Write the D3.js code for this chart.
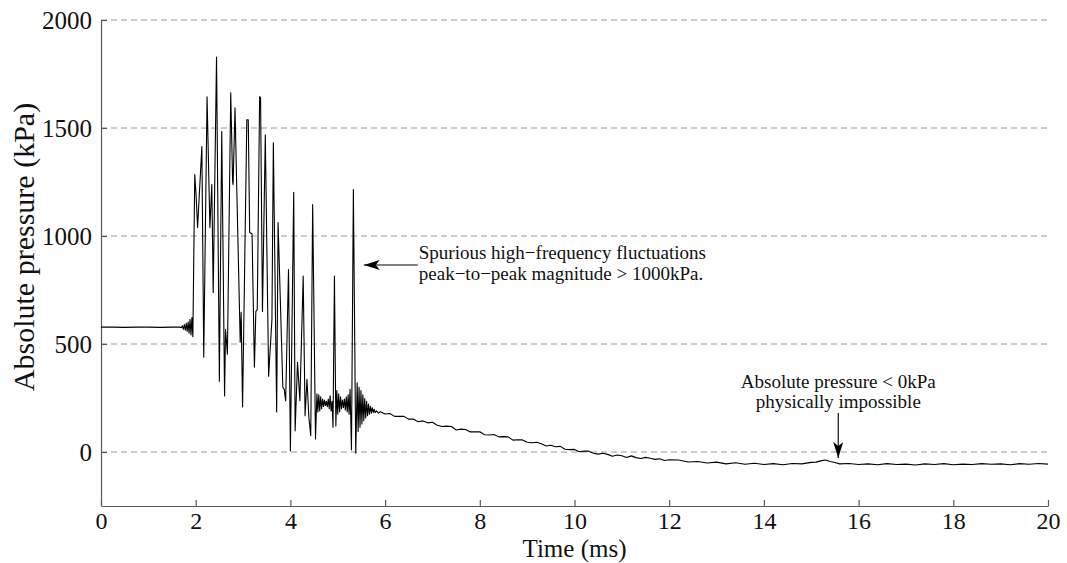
<!DOCTYPE html>
<html>
<head>
<meta charset="utf-8">
<script src="https://cdnjs.cloudflare.com/ajax/libs/d3/7.8.5/d3.min.js"></script>
<style>
  html, body { margin: 0; padding: 0; background: #fff; }
  svg { display: block; }
  text { font-family: "Liberation Serif", "Times New Roman", serif; fill: #111; }
</style>
</head>
<body>
<svg id="chart" width="1067" height="563"></svg>
<script>
// ---- data ----
const timeMs = [
  0, 0.25, 0.5, 0.75, 1.0, 1.25, 1.5, 1.65, 1.70,
  1.72, 1.74, 1.76, 1.78, 1.80, 1.82, 1.84, 1.86, 1.88, 1.90, 1.92, 1.94,
  1.98, 2.01, 2.04, 2.13, 2.17, 2.24, 2.30, 2.34, 2.37, 2.44, 2.50, 2.55, 2.61, 2.63, 2.67,
  2.74, 2.78, 2.79, 2.83, 2.94, 2.96, 2.99, 3.08, 3.11, 3.14, 3.19, 3.24, 3.27, 3.30,
  3.35, 3.37, 3.41, 3.47, 3.54, 3.61, 3.64, 3.71, 3.74, 3.84, 3.87, 3.90, 3.96, 4.00,
  4.07, 4.10, 4.15, 4.20, 4.27, 4.31, 4.35, 4.39, 4.43, 4.47, 4.53,
  4.56, 4.58, 4.60, 4.62, 4.64, 4.66, 4.68, 4.70, 4.72, 4.74, 4.76, 4.78, 4.80, 4.82, 4.84, 4.86, 4.88, 4.90, 4.93, 4.96,
  4.98, 5.00, 5.02, 5.04, 5.06, 5.08, 5.10, 5.12, 5.14, 5.16, 5.18, 5.20, 5.22, 5.24, 5.26, 5.29, 5.33, 5.38,
  5.41, 5.43, 5.45, 5.47, 5.49, 5.51, 5.53, 5.55, 5.57, 5.59, 5.61, 5.63, 5.65, 5.67, 5.69, 5.71, 5.73, 5.75, 5.77, 5.79, 5.82, 5.86,
  5.9, 6.0, 6.1, 6.2, 6.3, 6.4, 6.5, 6.6, 6.7, 6.8, 6.9, 7.0, 7.1, 7.2, 7.3, 7.4, 7.5, 7.6, 7.7, 7.8, 7.9,
  8.0, 8.1, 8.2, 8.3, 8.4, 8.5, 8.6, 8.7, 8.8, 8.9, 9.0, 9.1, 9.2, 9.3, 9.4, 9.5, 9.6, 9.7, 9.8, 9.9,
  10.0, 10.1, 10.2, 10.3, 10.4, 10.5, 10.6, 10.7, 10.8, 10.9, 11.0, 11.1, 11.2, 11.3, 11.4, 11.5, 11.6, 11.7, 11.8, 11.9,
  12.0, 12.2, 12.4, 12.6, 12.8, 13.0, 13.2, 13.4, 13.6, 13.8, 14.0, 14.2, 14.4, 14.6, 14.8,
  15.0, 15.1, 15.2, 15.3, 15.4, 15.5, 15.6, 15.8, 16.0, 16.2, 16.4, 16.6, 16.8, 17.0, 17.2, 17.4, 17.6, 17.8,
  18.0, 18.2, 18.4, 18.6, 18.8, 19.0, 19.2, 19.4, 19.6, 19.8, 20.0
];
const pressureKPa = [
  578, 578, 577, 578, 578, 577, 578, 578, 576,
  584, 568, 590, 564, 596, 558, 602, 550, 614, 542, 622, 534,
  1284, 1180, 1039, 1414, 439, 1645, 1039, 1238, 739, 1829, 328, 1483, 259, 568, 453,
  1663, 1250, 1238, 1593, 508, 647, 208, 1538, 1538, 1016, 1010, 393, 650, 660,
  1645, 1640, 651, 1469, 351, 614, 1432, 185, 1062, 300, 290, 236, 845, 5,
  1202, 98, 415, 237, 815, 168, 337, 160, 75, 1146, 60,
  270, 185, 265, 190, 255, 200, 245, 210, 240, 215, 235, 210, 245, 200, 260, 190, 235, 115, 815, 120,
  285, 175, 270, 185, 255, 200, 240, 205, 245, 195, 255, 185, 265, 175, 290, 10, 1215, -5,
  320, 95, 300, 115, 285, 130, 265, 145, 248, 158, 235, 168, 222, 175, 212, 180, 205, 183, 198, 182, 190, 180,
  186, 176, 178, 165, 165, 165, 152, 152, 140, 144, 135, 138, 124, 118, 120, 118, 102, 106, 104, 93, 93,
  94, 80, 79, 81, 70, 71, 70, 55, 57, 56, 45, 43, 45, 38, 28, 31, 24, 26, 13, 11,
  12, 1, 4, 4, -6, -10, -6, -11, -20, -14, -17, -25, -18, -26, -30, -25, -29, -34, -31, -39,
  -36, -37, -46, -44, -51, -47, -55, -50, -57, -52, -58, -54, -59, -53, -55,
  -48, -47, -41, -37, -44, -49, -55, -53, -58, -55, -59, -54, -58, -56, -60, -55, -58, -54,
  -59, -56, -58, -54, -57, -55, -59, -54, -57, -53, -56
];
const xTicks = [0, 2, 4, 6, 8, 10, 12, 14, 16, 18, 20];
const yTicks = [0, 500, 1000, 1500, 2000];
const xDomain = [0, 20];
const yDomain = [-250, 2000];
const xLabel = "Time (ms)";
const yLabel = "Absolute pressure (kPa)";
const note1Lines = ["Spurious high\u2212frequency fluctuations", "peak\u2212to\u2212peak magnitude > 1000kPa."];
const note2Lines = ["Absolute pressure < 0kPa", "physically impossible"];

// ---- layout ----
const svg = d3.select("#chart");
const L = 101, R = 1048, T = 20, B = 506;
const x = d3.scaleLinear().domain(xDomain).range([L, R]);
const y = d3.scaleLinear().domain(yDomain).range([B, T]);
const axisColor = "#5a5a5a";

// gridlines
svg.append("g").selectAll("line").data(yTicks).join("line")
  .attr("x1", L).attr("x2", R)
  .attr("y1", d => y(d)).attr("y2", d => y(d))
  .attr("stroke", "#9a9a9a").attr("stroke-width", 1)
  .attr("stroke-dasharray", "6,4");

// axes
const xAxis = d3.axisBottom(x).tickValues(xTicks).tickFormat(d3.format("d"))
  .tickSizeInner(-6).tickSizeOuter(0).tickPadding(8);
const gx = svg.append("g").attr("transform", `translate(0,${B})`).call(xAxis);
const yAxis = d3.axisLeft(y).tickValues(yTicks).tickFormat(d3.format("d"))
  .tickSizeInner(-6).tickSizeOuter(0).tickPadding(9);
const gy = svg.append("g").attr("transform", `translate(${L},0)`).call(yAxis);
[gx, gy].forEach(g => {
  g.select(".domain").attr("stroke", axisColor).attr("stroke-width", 1.2);
  g.selectAll(".tick line").attr("stroke", axisColor).attr("stroke-width", 1.2);
  g.selectAll(".tick text").attr("fill", "#111")
    .style("font-family", '"Liberation Serif", serif').style("font-size", "25px");
});
gy.selectAll(".tick text").attr("dy", "0.34em");
gx.selectAll(".tick text").style("font-size", "24px").attr("dy", "0.62em");

// axis labels
svg.append("text").attr("x", (L + R) / 2).attr("y", 557)
  .attr("text-anchor", "middle").style("font-size", "25px").text(xLabel);
svg.append("text").attr("transform", "translate(34,247) rotate(-90)")
  .attr("text-anchor", "middle").style("font-size", "30px").text(yLabel);

// data line
const pts = timeMs.map((t, i) => [t, pressureKPa[i]]);
svg.append("path").datum(pts)
  .attr("fill", "none").attr("stroke", "#000").attr("stroke-width", 1.1)
  .attr("stroke-linejoin", "round")
  .attr("d", d3.line().x(d => x(d[0])).y(d => y(d[1])));

// arrow marker
svg.append("defs").append("marker")
  .attr("id", "ah").attr("viewBox", "0 0 16 10").attr("refX", 16).attr("refY", 5)
  .attr("markerWidth", 16).attr("markerHeight", 10).attr("markerUnits", "userSpaceOnUse")
  .attr("orient", "auto")
  .append("path").attr("d", "M0,0 L16,5 L0,10 L4,5 Z").attr("fill", "#000");

// annotation 1
const a1 = { tailT: 6.69, tipT: 5.55, v: 866 };
svg.append("line")
  .attr("x1", x(a1.tailT)).attr("y1", y(a1.v))
  .attr("x2", x(a1.tipT)).attr("y2", y(a1.v))
  .attr("stroke", "#000").attr("stroke-width", 1.1).attr("marker-end", "url(#ah)");
svg.append("g").selectAll("text").data(note1Lines).join("text")
  .attr("x", x(a1.tailT) + 1).attr("y", (d, i) => 259 + i * 21)
  .style("font-size", "19px").text(d => d);

// annotation 2
const a2 = { t: 15.57, tipV: -37 };
svg.append("g").selectAll("text").data(note2Lines).join("text")
  .attr("x", x(a2.t)).attr("y", (d, i) => 388 + i * 20)
  .attr("text-anchor", "middle")
  .style("font-size", "19px").text(d => d);
svg.append("line")
  .attr("x1", x(a2.t)).attr("y1", 413)
  .attr("x2", x(a2.t)).attr("y2", y(a2.tipV) - 2)
  .attr("stroke", "#000").attr("stroke-width", 1.1).attr("marker-end", "url(#ah)");
</script>
</body>
</html>
